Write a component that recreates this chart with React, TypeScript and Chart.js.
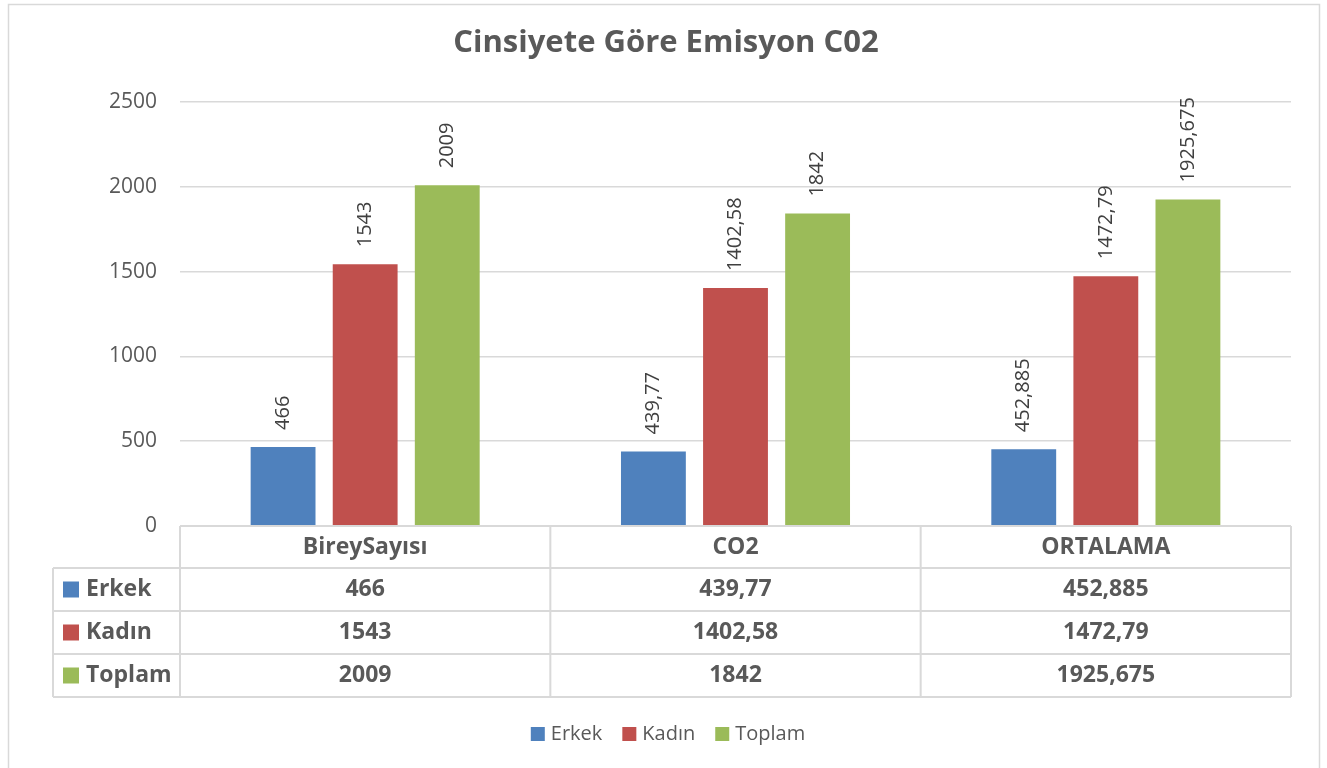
import React, { useEffect, useRef } from "react";
import { Chart, registerables } from "chart.js";

Chart.register(...registerables);

const chartTitle = "Cinsiyete Göre Emisyon C02";
const categories = ["BireySayısı", "CO2", "ORTALAMA"];
const seriesNames = ["Erkek", "Kadın", "Toplam"];
const erkekValues = [466, 439.77, 452.885];
const kadinValues = [1543, 1402.58, 1472.79];
const toplamValues = [2009, 1842, 1925.675];
const seriesColors = ["#4F81BD", "#C0504D", "#9BBB59"];
const yTickValues = [0, 500, 1000, 1500, 2000, 2500];

const FONT = "'Open Sans', 'Noto Sans', sans-serif";
const TEXT = "#595959";
const LINE = "#d9d9d9";

const fmt = (v: number) => String(v).replace(".", ",");

const decorPlugin = {
  id: "decor",
  afterDraw(chart: any) {
    const ctx = chart.ctx as CanvasRenderingContext2D;
    const area = chart.chartArea;
    const xs = chart.scales.x;
    ctx.save();

    // outer frame
    ctx.strokeStyle = LINE;
    ctx.lineWidth = 1.5;
    ctx.strokeRect(8.5, 4.5, 1311, 800);

    // title
    ctx.fillStyle = TEXT;
    ctx.font = `bold 31px ${FONT}`;
    ctx.textAlign = "center";
    ctx.textBaseline = "middle";
    ctx.fillText(chartTitle, 666, 43);

    // data labels (rotated)
    ctx.fillStyle = "#404040";
    ctx.font = `20px ${FONT}`;
    chart.data.datasets.forEach((ds: any, di: number) => {
      const meta = chart.getDatasetMeta(di);
      meta.data.forEach((bar: any, i: number) => {
        ctx.save();
        ctx.translate(bar.x, bar.y - 17);
        ctx.rotate(-Math.PI / 2);
        ctx.textAlign = "left";
        ctx.textBaseline = "middle";
        ctx.fillText(fmt(ds.data[i]), 0, 0);
        ctx.restore();
      });
    });

    // data table
    const tableLeft = 53;
    const top = area.bottom;
    const rowH = [42, 43, 43, 43];
    const rowTops: number[] = [top];
    rowH.forEach((h, i) => rowTops.push(rowTops[i] + h));
    const bottom = rowTops[rowTops.length - 1];
    const catW = (area.right - area.left) / categories.length;

    ctx.strokeStyle = LINE;
    ctx.lineWidth = 2;
    ctx.beginPath();
    ctx.moveTo(area.left, top);
    ctx.lineTo(area.right, top);
    for (let r = 1; r < rowTops.length; r++) {
      ctx.moveTo(tableLeft, rowTops[r]);
      ctx.lineTo(area.right, rowTops[r]);
    }
    ctx.moveTo(tableLeft, rowTops[1]);
    ctx.lineTo(tableLeft, bottom);
    for (let c = 0; c <= categories.length; c++) {
      const x = area.left + c * catW;
      ctx.moveTo(x, top);
      ctx.lineTo(x, bottom);
    }
    ctx.stroke();

    ctx.fillStyle = TEXT;
    ctx.font = `bold 23px ${FONT}`;
    ctx.textAlign = "center";
    ctx.textBaseline = "middle";
    categories.forEach((c, i) => {
      const cx = xs.getPixelForValue(i);
      ctx.fillText(c, cx, (rowTops[0] + rowTops[1]) / 2);
    });
    chart.data.datasets.forEach((ds: any, di: number) => {
      const cy = (rowTops[di + 1] + rowTops[di + 2]) / 2;
      ctx.fillStyle = ds.backgroundColor;
      ctx.fillRect(63, cy - 8, 16, 16);
      ctx.fillStyle = TEXT;
      ctx.textAlign = "left";
      ctx.fillText(ds.label, 86, cy);
      ctx.textAlign = "center";
      ds.data.forEach((v: number, i: number) => {
        ctx.fillText(fmt(v), xs.getPixelForValue(i), cy);
      });
    });

    // legend
    ctx.font = `20px ${FONT}`;
    const box = 14;
    const gapBoxText = 6;
    const gapItems = 20;
    const widths = chart.data.datasets.map((ds: any) => box + gapBoxText + ctx.measureText(ds.label).width);
    const total = widths.reduce((a: number, b: number) => a + b, 0) + gapItems * (widths.length - 1);
    let lx = 668 - total / 2;
    const ly = 734;
    chart.data.datasets.forEach((ds: any, di: number) => {
      ctx.fillStyle = ds.backgroundColor;
      ctx.fillRect(lx, ly - box / 2, box, box);
      ctx.fillStyle = TEXT;
      ctx.textAlign = "left";
      ctx.textBaseline = "middle";
      ctx.fillText(ds.label, lx + box + gapBoxText, ly);
      lx += widths[di] + gapItems;
    });

    ctx.restore();
  },
};

export default function App() {
  const ref = useRef<HTMLCanvasElement | null>(null);
  useEffect(() => {
    if (!ref.current) return;
    const seriesValues = [erkekValues, kadinValues, toplamValues];
    const chart = new Chart(ref.current, {
      type: "bar",
      data: {
        labels: categories,
        datasets: seriesNames.map((n, i) => ({
          label: n,
          data: seriesValues[i],
          backgroundColor: seriesColors[i],
          categoryPercentage: 0.665,
          barPercentage: 0.79,
        })),
      },
      options: {
        animation: false,
        responsive: false,
        devicePixelRatio: 1,
        layout: { padding: { left: 0, top: 102, right: 36, bottom: 242 } },
        plugins: {
          legend: { display: false },
          title: { display: false },
          tooltip: { enabled: false },
        },
        scales: {
          x: { display: false },
          y: {
            min: 0,
            max: 2500,
            afterFit: (s: any) => {
              s.width = 180;
            },
            afterBuildTicks: (s: any) => {
              s.ticks = yTickValues.map((v) => ({ value: v }));
            },
            border: { display: false },
            grid: { color: LINE, lineWidth: 1.5, drawTicks: false },
            ticks: {
              padding: 23,
              color: TEXT,
              font: { family: FONT, size: 21 },
              callback: (v: any) => String(v),
            },
          },
        },
      },
      plugins: [decorPlugin],
    });
    return () => chart.destroy();
  }, []);
  return (
    <div style={{ position: "absolute", left: 0, top: 0, width: 1327, height: 768, background: "#fff" }}>
      <canvas ref={ref} width={1327} height={768} style={{ width: 1327, height: 768, display: "block" }} />
    </div>
  );
}
